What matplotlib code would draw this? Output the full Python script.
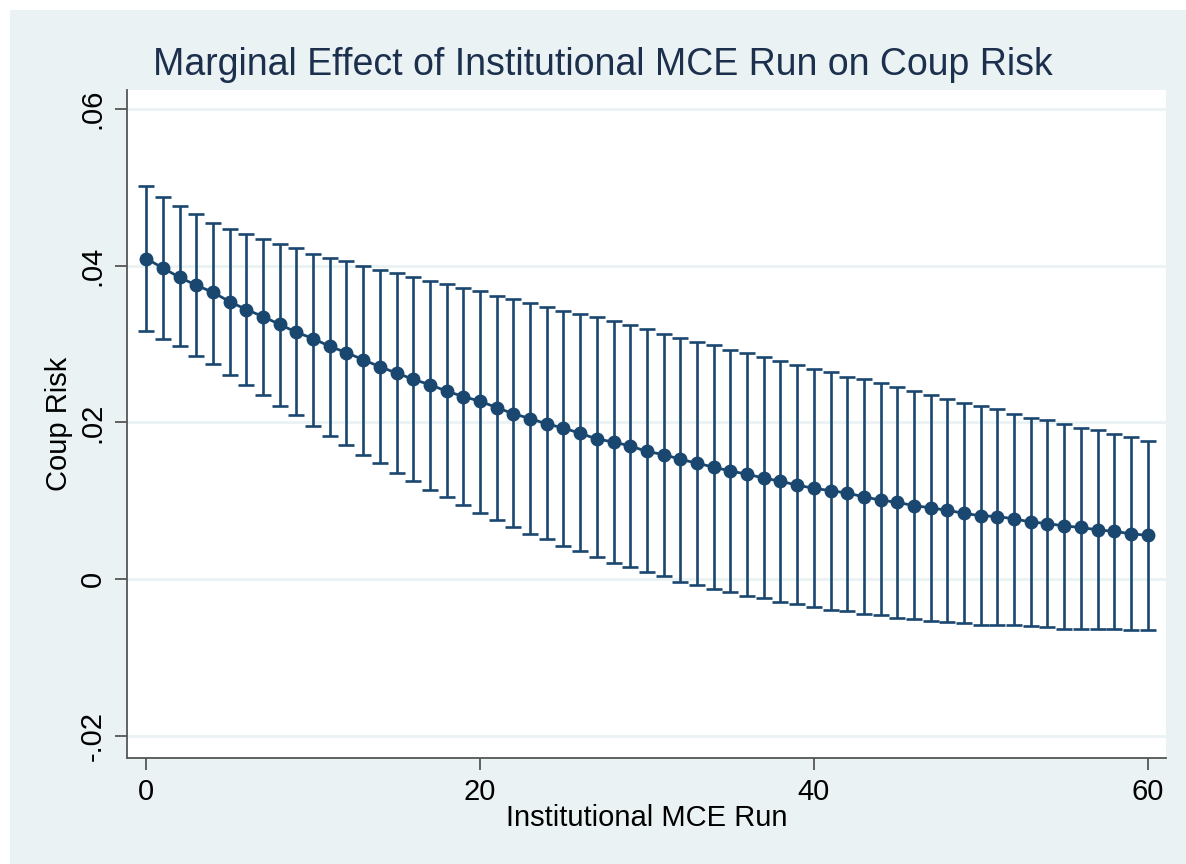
import matplotlib
matplotlib.use("Agg")
import matplotlib.pyplot as plt
from matplotlib.patches import Rectangle

plt.rcParams['font.family'] = ['Liberation Sans', 'DejaVu Sans']

# 数据：横轴取值与边际效应及其置信区间
run = list(range(61))
effect = [0.0409, 0.0397, 0.0385, 0.0375, 0.0366, 0.0354, 0.0344, 0.0335, 0.0325, 0.0315,
          0.0307, 0.0297, 0.0289, 0.0280, 0.0271, 0.0263, 0.0255, 0.0248, 0.0240, 0.0233,
          0.0227, 0.0219, 0.0211, 0.0205, 0.0198, 0.0193, 0.0186, 0.0179, 0.0175, 0.0170,
          0.0163, 0.0159, 0.0153, 0.0148, 0.0143, 0.0138, 0.0134, 0.0129, 0.0125, 0.0120,
          0.0116, 0.0113, 0.0110, 0.0105, 0.0101, 0.0098, 0.0094, 0.0091, 0.0088, 0.0084,
          0.0081, 0.0080, 0.0077, 0.0073, 0.0071, 0.0068, 0.0066, 0.0063, 0.0061, 0.0058,
          0.0056]
upper = [0.0502, 0.0487, 0.0476, 0.0466, 0.0455, 0.0447, 0.0440, 0.0434, 0.0427, 0.0422,
         0.0415, 0.0410, 0.0406, 0.0400, 0.0395, 0.0390, 0.0385, 0.0381, 0.0377, 0.0372,
         0.0367, 0.0361, 0.0357, 0.0352, 0.0347, 0.0342, 0.0338, 0.0334, 0.0329, 0.0324,
         0.0319, 0.0313, 0.0308, 0.0303, 0.0299, 0.0293, 0.0288, 0.0283, 0.0278, 0.0273,
         0.0268, 0.0264, 0.0258, 0.0255, 0.0250, 0.0245, 0.0240, 0.0235, 0.0230, 0.0225,
         0.0221, 0.0217, 0.0211, 0.0206, 0.0203, 0.0198, 0.0193, 0.0190, 0.0185, 0.0181,
         0.0176]
lower = [0.0317, 0.0307, 0.0297, 0.0285, 0.0274, 0.0260, 0.0248, 0.0235, 0.0221, 0.0210,
         0.0196, 0.0183, 0.0171, 0.0159, 0.0148, 0.0136, 0.0125, 0.0114, 0.0105, 0.0095,
         0.0084, 0.0076, 0.0066, 0.0058, 0.0051, 0.0043, 0.0036, 0.0028, 0.0021, 0.0015,
         0.0009, 0.0004, -0.0003, -0.0007, -0.0012, -0.0016, -0.0021, -0.0024, -0.0029, -0.0032,
         -0.0036, -0.0039, -0.0041, -0.0044, -0.0046, -0.0049, -0.0051, -0.0053, -0.0055, -0.0056,
         -0.0058, -0.0059, -0.0059, -0.0060, -0.0061, -0.0063, -0.0063, -0.0063, -0.0064, -0.0065,
         -0.0065]
yticks = [-0.02, 0, 0.02, 0.04, 0.06]
ytick_labels = ['-.02', '0', '.02', '.04', '.06']
xticks = [0, 20, 40, 60]

navy = '#1a476f'
bg = '#eaf2f3'

fig = plt.figure(figsize=(11.86, 8.64), dpi=100)
fig.patch.set_facecolor('white')
# Stata 风格的浅色背景，放在最底层
fig.patches.append(Rectangle((10 / 1186, 0), 1, (864 - 10) / 864,
                             transform=fig.transFigure, facecolor=bg,
                             edgecolor='none', zorder=-10))

ax = fig.add_axes([127 / 1186, 106 / 864, (1166 - 127) / 1186, (758 - 90) / 864])
ax.set_facecolor('white')

err_lo = [e - l for e, l in zip(effect, lower)]
err_hi = [u - e for u, e in zip(upper, effect)]
ax.errorbar(run, effect, yerr=[err_lo, err_hi], fmt='o-', color=navy,
            ecolor=navy, elinewidth=1.9, capsize=6, capthick=1.9,
            markersize=9, linewidth=2, zorder=3)

ax.set_xlim(-1.15, 61.1)
ax.set_ylim(-0.0228, 0.0624)
ax.set_yticks(yticks)
ax.set_yticklabels(ytick_labels, rotation=90, va='center')
ax.set_xticks(xticks)
ax.grid(axis='y', color=bg, linewidth=2)
ax.set_axisbelow(True)

for side in ['top', 'right']:
    ax.spines[side].set_visible(False)
for side in ['left', 'bottom']:
    ax.spines[side].set_color('#555555')
    ax.spines[side].set_linewidth(1.3)
ax.tick_params(axis='both', direction='out', length=8.5, width=1.3,
               color='#555555', labelsize=21, pad=6)

ax.set_xlabel('Institutional MCE Run', fontsize=21)
ax.set_ylabel('Coup Risk', fontsize=21)
ax.xaxis.set_label_coords(0.5, -0.069)
ax.yaxis.set_label_coords(-0.052, 0.5)

fig.text(603 / 1186, (864 - 65) / 864,
         'Marginal Effect of Institutional MCE Run on Coup Risk',
         ha='center', va='center', fontsize=27, color='#1c2f4d')

fig.savefig('out.png', dpi=100)
